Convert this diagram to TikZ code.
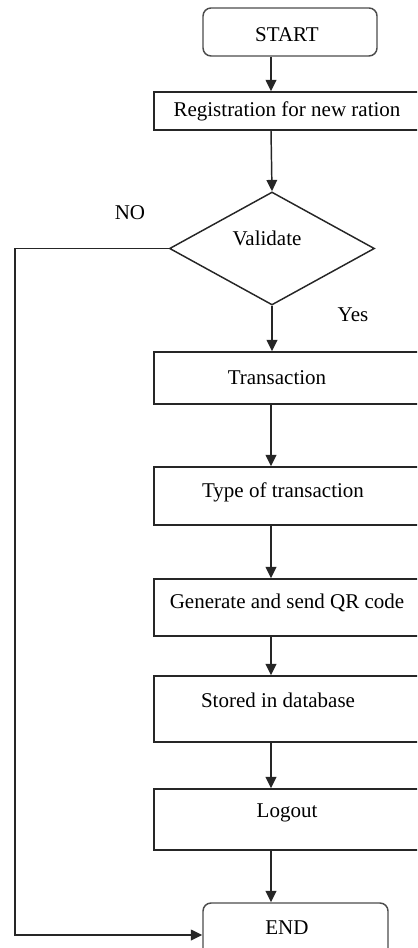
\documentclass[tikz,border=0pt]{standalone}
\usepackage{fontspec}
\setmainfont{Liberation Serif}
\usetikzlibrary{shapes.geometric,arrows.meta}
\begin{document}
\begin{tikzpicture}[x=0.75pt,y=-0.75pt,
  every node/.style={font=\fontsize{15.75}{18}\selectfont, text=black},
  box/.style={draw=black!85, line width=1.1pt, rectangle, inner sep=0pt, minimum width=207pt},
  term/.style={draw=black!70, line width=1.1pt, rectangle, inner sep=0pt, rounded corners=6pt},
  dec/.style={draw=black!85, line width=1.1pt, diamond, inner sep=0pt},
  arr/.style={draw=black!85, line width=1.1pt, -{Triangle[length=8.5pt,width=8pt]}},
  lbl/.style={inner sep=0pt}]
\useasboundingbox (0,0) rectangle (417,948);
\clip (0,0) rectangle (417,948);

\node[term, minimum width=130.5pt, minimum height=36pt,
  label={[xshift=-2.25pt,yshift=-2.25pt]center:START}] (start) at (290,32) {};
\node[box, minimum height=28.5pt,
  label={[xshift=-3.75pt]center:Registration for new ration}] (reg) at (292,111) {};
\node[dec, minimum width=153.75pt, minimum height=84.75pt,
  label={[xshift=-3.75pt,yshift=7.9pt]center:Validate}] (val) at (272,248.5) {};
\node[box, minimum height=39pt,
  label={[xshift=-11.25pt]center:Transaction}] (trans) at (292,378) {};
\node[box, minimum height=43.5pt,
  label={[xshift=-6.75pt,yshift=3pt]center:Type of transaction}] (type) at (292,496) {};
\node[box, minimum height=42.75pt,
  label={[xshift=-3.75pt,yshift=3.4pt]center:Generate and send QR code}] (gen) at (292,607.5) {};
\node[box, minimum height=49.5pt,
  label={[xshift=-10.5pt,yshift=6.75pt]center:Stored in database}] (stored) at (292,709) {};
\node[box, minimum height=45.75pt,
  label={[xshift=-3.75pt,yshift=4.9pt]center:Logout}] (logout) at (292,819.5) {};
\node[term, minimum width=138.75pt, minimum height=48pt,
  label={[xshift=-6.4pt,yshift=5.25pt]center:END}] (end) at (295.5,935) {};

\node[lbl] (no) at (130,213) {NO};
\node[lbl] (yes) at (353,315) {Yes};

\coordinate (ax) at (271,0);
\coordinate (nc) at (15,935);

\draw[arr] (start.south -| ax) -- (reg.north -| ax);
\draw[arr] (reg.south -| ax) -- (val.north);
\draw[arr] (val.south) -- (val.south |- trans.north);
\draw[arr] (trans.south -| ax) -- (type.north -| ax);
\draw[arr] (type.south -| ax) -- (gen.north -| ax);
\draw[arr] (gen.south -| ax) -- (stored.north -| ax);
\draw[arr] (stored.south -| ax) -- (logout.north -| ax);
\draw[arr] (logout.south -| ax) -- (end.north -| ax);
\draw[arr] (val.west) -| (nc) -- (end.west);
\end{tikzpicture}
\end{document}
